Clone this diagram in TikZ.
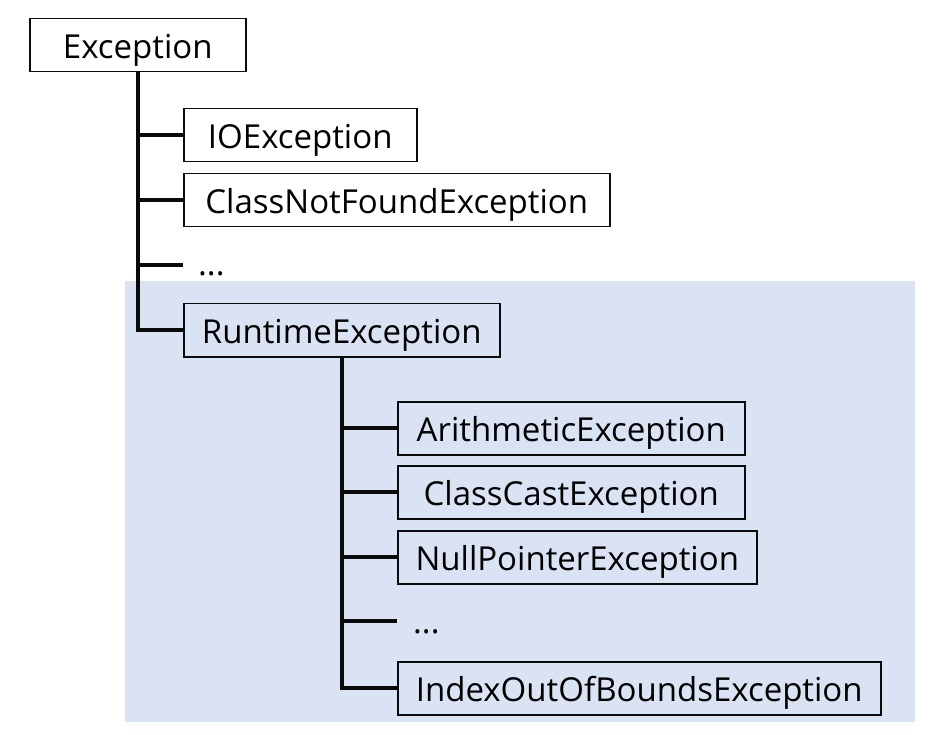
\documentclass[tikz,border=0pt]{standalone}
\usepackage{fontspec}
\setmainfont{Open Sans}
\usepackage{tikz}
\usetikzlibrary{positioning,calc}
\definecolor{runtime}{HTML}{DAE3F3}
\definecolor{ink}{HTML}{0A0A0A}
\newcommand{\exfont}{\fontsize{33}{40}\selectfont}
\tikzset{
  exbox/.style={draw=ink, line width=1.5pt, minimum height=53pt, inner sep=0pt,
                anchor=north west, text height=30pt, text depth=3pt, font=\exfont},
  branch/.style={draw=ink, line width=4pt},
  dotlabel/.style={anchor=base west, inner sep=0pt, font=\exfont}
}

\begin{document}
\begin{tikzpicture}[x=1pt,y=-1pt]
    \useasboundingbox (0,0) rectangle (929,735);
    % unchecked exceptions
    \fill[runtime] (125,281) rectangle (915,722);

    \node[exbox, minimum width=216pt] (exc) at (29,18) {Exception};
    \foreach \nm/\y/\w/\txt in {io/108/233/IOException,
                                cnf/173/426/ClassNotFoundException,
                                rt/303/316/RuntimeException} {
      \node[exbox, minimum width=\w pt] (\nm) at (183,\y) {\txt};
    }
    \coordinate (more1) at (183,265);
    \node[dotlabel] (dots1) at (198,276) {...};

    \draw[branch] (exc.south) |- (rt.west);
    \foreach \nm in {io,cnf} {
      \draw[branch] (exc.south |- \nm.west) -- (\nm.west);
    }
    \draw[branch] (exc.south |- more1) -- (more1);

    \foreach \nm/\y/\w/\txt in {ar/401/347/ArithmeticException,
                                cc/465/347/ClassCastException,
                                np/530/359/NullPointerException,
                                ix/661/483/IndexOutOfBoundsException} {
      \node[exbox, minimum width=\w pt] (\nm) at (397,\y) {\txt};
    }
    \coordinate (more2) at (397,621);
    \node[dotlabel] (dots2) at (413,633) {...};

    \draw[branch] (rt.south) |- (ix.west);
    \foreach \nm in {ar,cc,np} {
      \draw[branch] (rt.south |- \nm.west) -- (\nm.west);
    }
    \draw[branch] (rt.south |- more2) -- (more2);
\end{tikzpicture}
\end{document}
